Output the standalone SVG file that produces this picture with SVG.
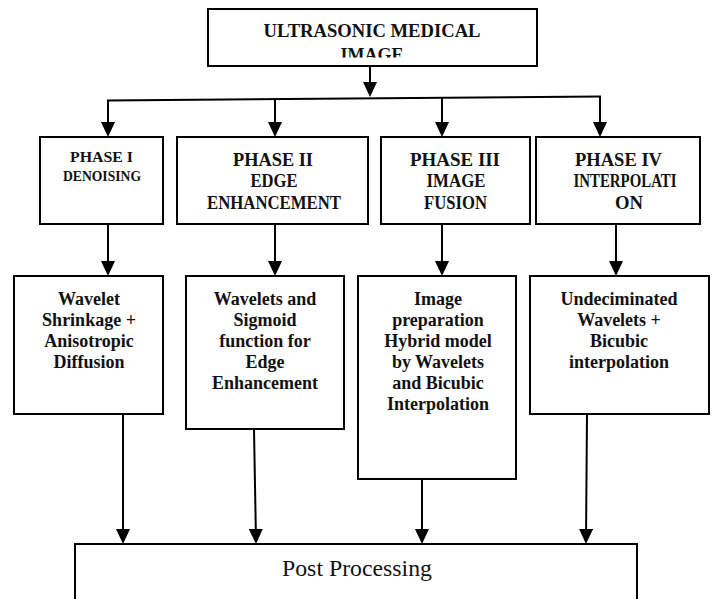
<svg xmlns="http://www.w3.org/2000/svg" width="713" height="599" viewBox="0 0 713 599">
<style>
.box{fill:#fff;stroke:#000;stroke-width:2}
.t{font-weight:bold;text-anchor:middle;fill:#111}
.p1{font-size:15px}
.ph{font-size:18px}
.b{font-size:18px}
.reg{font-size:23px;text-anchor:middle;fill:#111}
.c{fill:none;stroke:#000;stroke-width:2}
</style>
<defs>
<marker id="ah" viewBox="0 0 15 14" refX="12" refY="7" markerWidth="15" markerHeight="14" orient="auto" markerUnits="userSpaceOnUse">
<path d="M0,0 L15,7 L0,14 Z" fill="#000"/>
</marker>
<clipPath id="clipTop"><rect x="208" y="9" width="329" height="48.5"/></clipPath>
</defs>
<rect width="713" height="599" fill="#fff"/>

<g id="connectors">
<line class="c" x1="370" y1="66" x2="370" y2="94" marker-end="url(#ah)"/>
<line class="c" x1="107" y1="100.5" x2="601" y2="96.5"/>
<line class="c" x1="108" y1="100.5" x2="108" y2="134" marker-end="url(#ah)"/>
<line class="c" x1="275" y1="99.5" x2="275" y2="134" marker-end="url(#ah)"/>
<line class="c" x1="442" y1="97.5" x2="442" y2="134" marker-end="url(#ah)"/>
<line class="c" x1="600" y1="96.5" x2="600" y2="134" marker-end="url(#ah)"/>
<line class="c" x1="108" y1="224" x2="108" y2="273" marker-end="url(#ah)"/>
<line class="c" x1="275" y1="224" x2="275" y2="273" marker-end="url(#ah)"/>
<line class="c" x1="442" y1="224" x2="442" y2="273" marker-end="url(#ah)"/>
<line class="c" x1="616" y1="224" x2="616" y2="273" marker-end="url(#ah)"/>
<line class="c" x1="123" y1="414" x2="123" y2="541" marker-end="url(#ah)"/>
<line class="c" x1="254" y1="429" x2="256" y2="541" marker-end="url(#ah)"/>
<line class="c" x1="422" y1="479" x2="422" y2="541" marker-end="url(#ah)"/>
<line class="c" x1="587" y1="414" x2="586" y2="541" marker-end="url(#ah)"/>
</g>

<g font-family="Liberation Serif, serif">
<g id="ultrasonic">
<rect class="box" x="208" y="9" width="329" height="57"/>
<text class="t ph" x="372" y="37" textLength="217" lengthAdjust="spacingAndGlyphs">ULTRASONIC MEDICAL</text>
<text class="t ph" x="372" y="60.5" clip-path="url(#clipTop)">IMAGE</text>
</g>

<g id="phase1">
<rect class="box" x="40" y="137" width="123" height="87"/>
<text class="t p1" x="101.5" y="162" textLength="63" lengthAdjust="spacingAndGlyphs">PHASE I</text>
<text class="t p1" x="102" y="180.5" textLength="78" lengthAdjust="spacingAndGlyphs">DENOISING</text>
</g>

<g id="phase2">
<rect class="box" x="177" y="137" width="191" height="87"/>
<text class="t ph" x="273" y="166" textLength="80" lengthAdjust="spacingAndGlyphs">PHASE II</text>
<text class="t ph" x="274" y="187" textLength="47" lengthAdjust="spacingAndGlyphs">EDGE</text>
<text class="t ph" x="274" y="209" textLength="134" lengthAdjust="spacingAndGlyphs">ENHANCEMENT</text>
</g>

<g id="phase3">
<rect class="box" x="381" y="137" width="149" height="87"/>
<text class="t ph" x="455" y="166" textLength="90" lengthAdjust="spacingAndGlyphs">PHASE III</text>
<text class="t ph" x="456" y="187" textLength="59" lengthAdjust="spacingAndGlyphs">IMAGE</text>
<text class="t ph" x="455.5" y="209" textLength="63" lengthAdjust="spacingAndGlyphs">FUSION</text>
</g>

<g id="phase4">
<rect class="box" x="536" y="137" width="164" height="87"/>
<text class="t ph" x="618.5" y="166" textLength="87" lengthAdjust="spacingAndGlyphs">PHASE IV</text>
<text class="t ph" x="625" y="187" textLength="103" lengthAdjust="spacingAndGlyphs">INTERPOLATI</text>
<text class="t ph" x="629" y="209" textLength="28" lengthAdjust="spacingAndGlyphs">ON</text>
</g>

<g id="wavelet-shrinkage">
<rect class="box" x="14" y="276" width="149" height="138"/>
<text class="t b" x="89" y="305">Wavelet</text>
<text class="t b" x="89" y="326">Shrinkage +</text>
<text class="t b" x="89" y="347">Anisotropic</text>
<text class="t b" x="89" y="368">Diffusion</text>
</g>

<g id="wavelets-sigmoid">
<rect class="box" x="186" y="276" width="158" height="153"/>
<text class="t b" x="265" y="305">Wavelets and</text>
<text class="t b" x="265" y="326">Sigmoid</text>
<text class="t b" x="265" y="347">function for</text>
<text class="t b" x="265" y="368">Edge</text>
<text class="t b" x="265" y="389">Enhancement</text>
</g>

<g id="image-preparation">
<rect class="box" x="358" y="276" width="158" height="203"/>
<text class="t b" x="438" y="305">Image</text>
<text class="t b" x="438" y="326">preparation</text>
<text class="t b" x="438" y="347">Hybrid model</text>
<text class="t b" x="438" y="368">by Wavelets</text>
<text class="t b" x="438" y="389">and Bicubic</text>
<text class="t b" x="438" y="410">Interpolation</text>
</g>

<g id="undecimated">
<rect class="box" x="530" y="276" width="179" height="138"/>
<text class="t b" x="619" y="305">Undeciminated</text>
<text class="t b" x="619" y="326">Wavelets +</text>
<text class="t b" x="619" y="347">Bicubic</text>
<text class="t b" x="619" y="368">interpolation</text>
</g>

<g id="post-processing">
<rect class="box" x="75" y="544" width="562" height="70"/>
<text class="reg" x="357" y="576" textLength="150" lengthAdjust="spacingAndGlyphs">Post Processing</text>
</g>
</g>
</svg>
